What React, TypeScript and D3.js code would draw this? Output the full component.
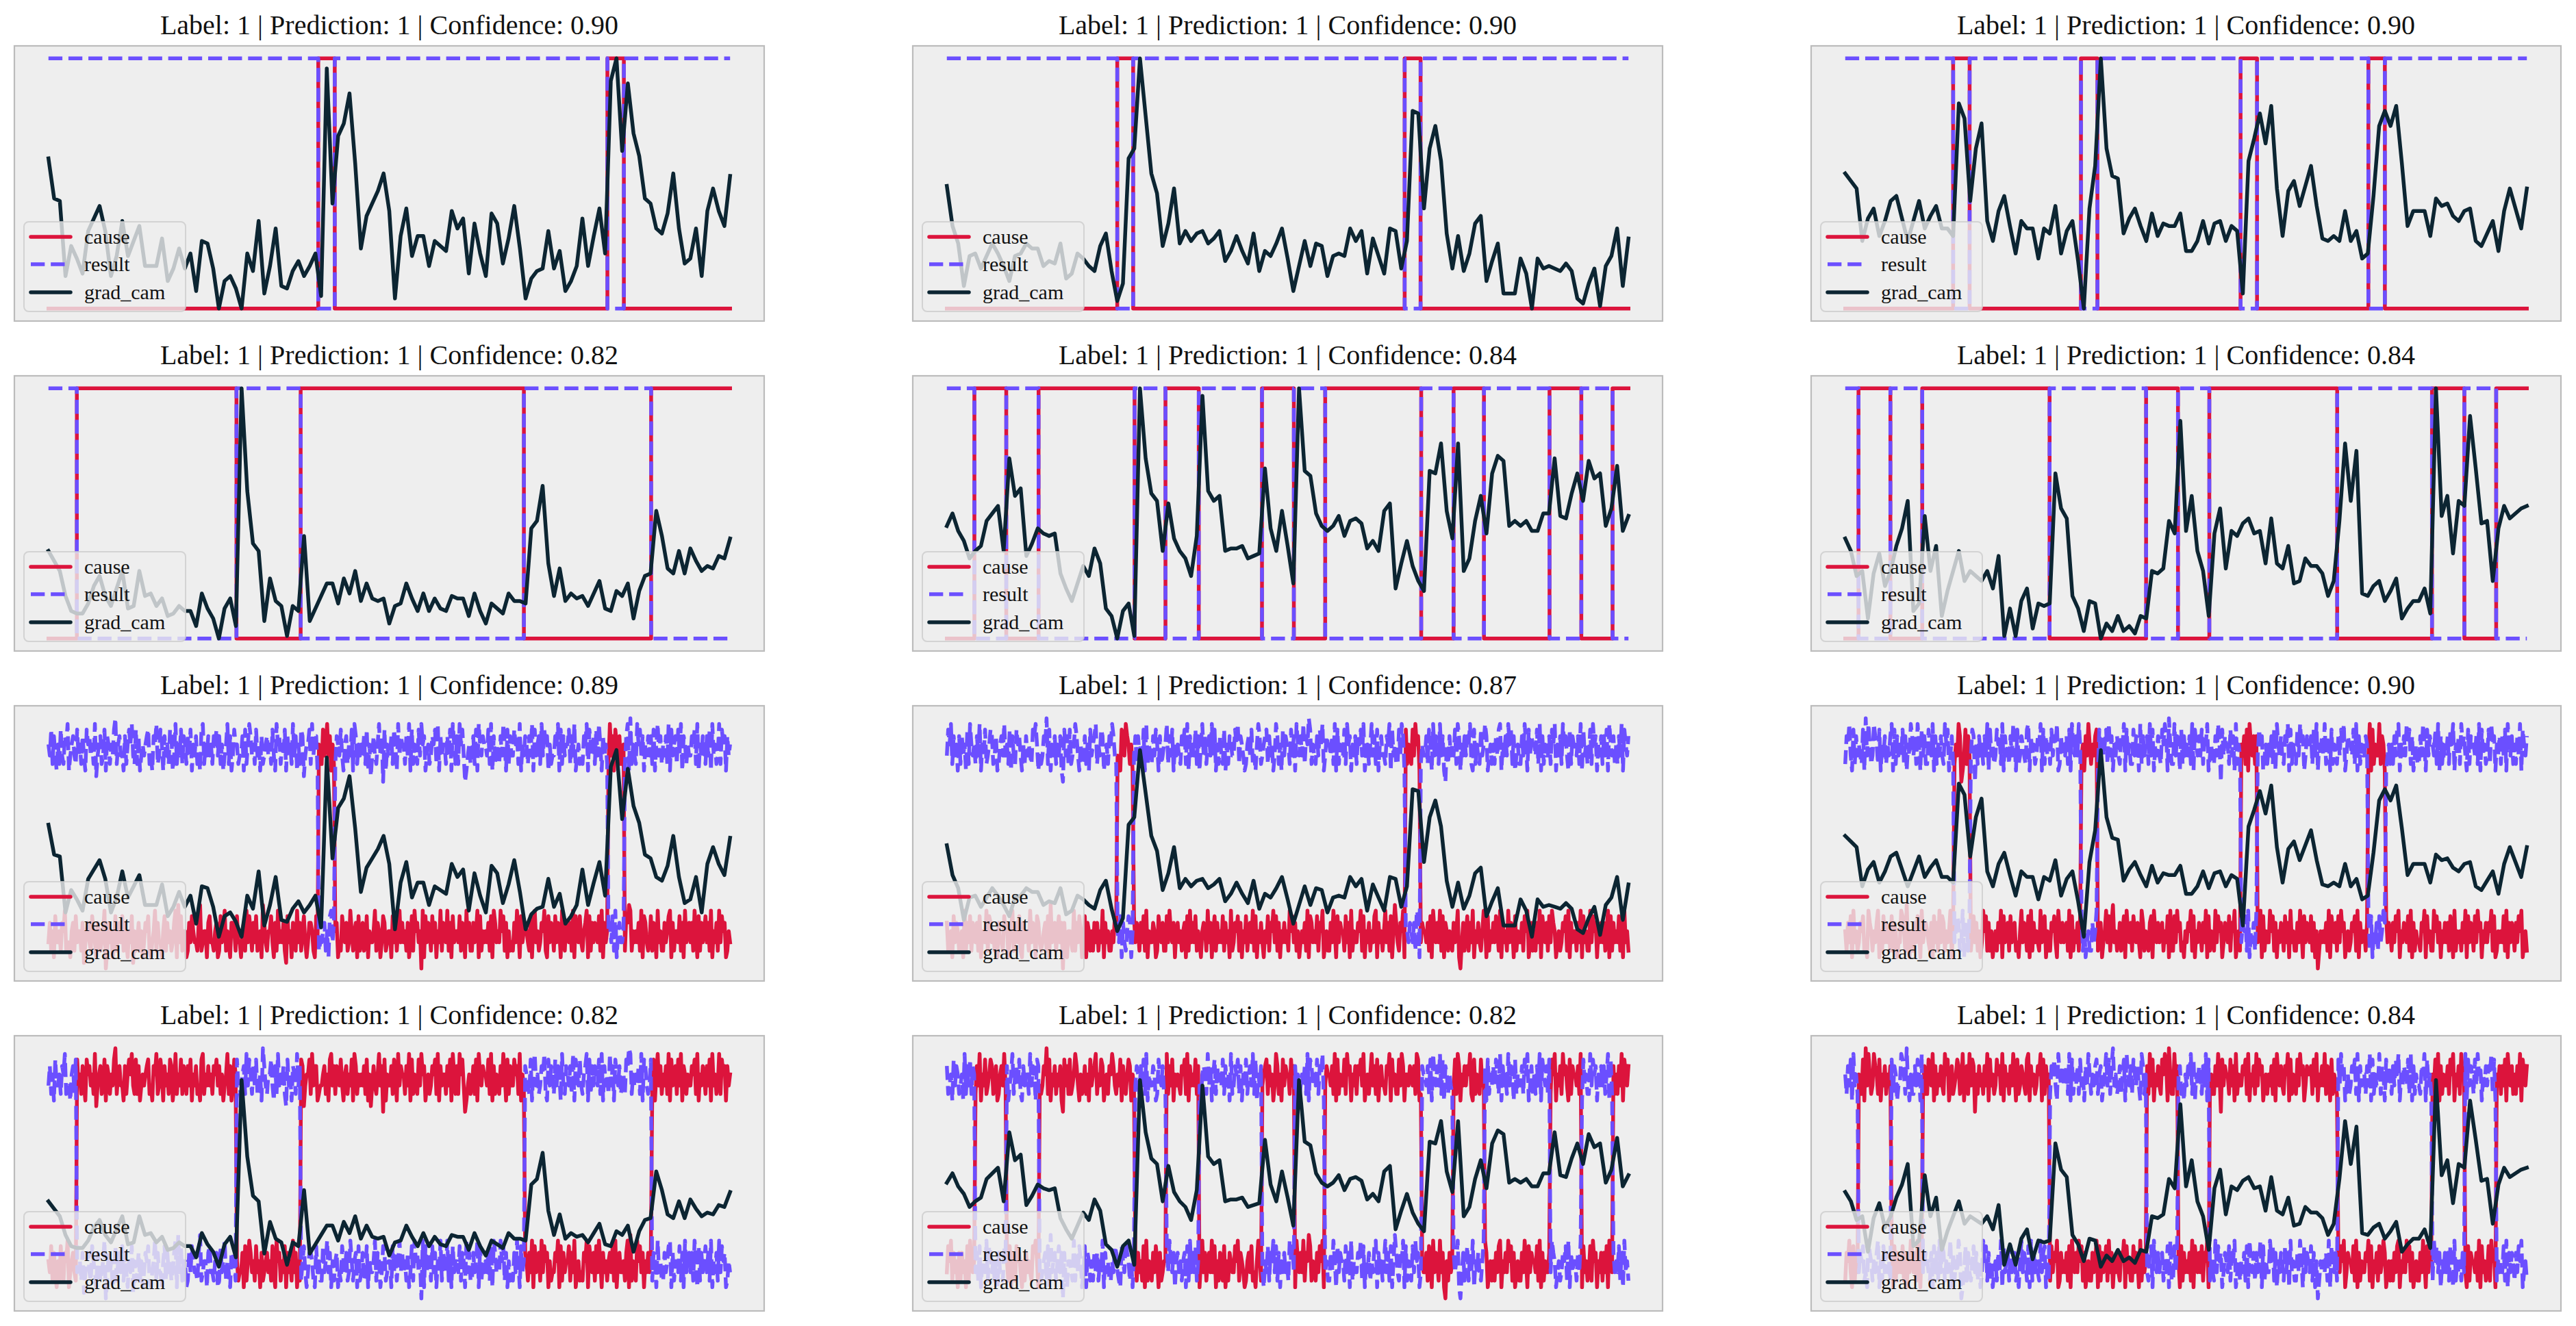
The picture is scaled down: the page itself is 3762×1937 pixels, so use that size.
import React from 'react';
import * as d3 from 'd3';

const W = 3762;
const H = 1937;

// grad_cam curves of the six samples (rows 3-4 show the same samples with noise added)
const GRAD_CAM_1 = [
  0.60, 0.44, 0.43, 0.13, 0.25, 0.20, 0.14, 0.31, 0.36, 0.41,
  0.31, 0.13, 0.21, 0.35, 0.21, 0.27, 0.33, 0.17, 0.17, 0.17,
  0.28, 0.11, 0.16, 0.24, 0.16, 0.22, 0.07, 0.27, 0.26, 0.16,
  0.00, 0.11, 0.13, 0.08, 0.00, 0.22, 0.15, 0.35, 0.06, 0.17,
  0.32, 0.09, 0.08, 0.15, 0.19, 0.13, 0.17, 0.22, 0.05, 0.96,
  0.42, 0.69, 0.74, 0.86, 0.58, 0.24, 0.37, 0.42, 0.47, 0.54,
  0.39, 0.04, 0.29, 0.40, 0.21, 0.29, 0.29, 0.17, 0.27, 0.25,
  0.23, 0.39, 0.32, 0.36, 0.14, 0.34, 0.22, 0.13, 0.38, 0.34,
  0.18, 0.28, 0.41, 0.24, 0.04, 0.12, 0.15, 0.16, 0.31, 0.16,
  0.23, 0.07, 0.11, 0.17, 0.36, 0.17, 0.29, 0.40, 0.22, 0.91,
  1.00, 0.63, 0.90, 0.70, 0.61, 0.44, 0.42, 0.32, 0.30, 0.38,
  0.54, 0.32, 0.18, 0.20, 0.32, 0.13, 0.39, 0.48, 0.39, 0.33,
  0.53,
];
const GRAD_CAM_2 = [
  0.49, 0.33, 0.26, 0.09, 0.21, 0.22, 0.16, 0.21, 0.26, 0.22,
  0.17, 0.11, 0.21, 0.22, 0.26, 0.24, 0.24, 0.17, 0.19, 0.18,
  0.26, 0.12, 0.14, 0.22, 0.20, 0.17, 0.15, 0.25, 0.30, 0.15,
  0.03, 0.10, 0.60, 0.64, 1.00, 0.77, 0.54, 0.46, 0.25, 0.34,
  0.48, 0.26, 0.31, 0.27, 0.30, 0.31, 0.26, 0.28, 0.31, 0.19,
  0.23, 0.29, 0.23, 0.18, 0.30, 0.15, 0.23, 0.21, 0.26, 0.32,
  0.20, 0.07, 0.17, 0.27, 0.17, 0.26, 0.25, 0.13, 0.21, 0.22,
  0.21, 0.32, 0.27, 0.31, 0.14, 0.28, 0.21, 0.14, 0.32, 0.31,
  0.16, 0.27, 0.79, 0.78, 0.40, 0.64, 0.73, 0.59, 0.30, 0.16,
  0.29, 0.15, 0.22, 0.34, 0.37, 0.11, 0.19, 0.26, 0.06, 0.06,
  0.06, 0.20, 0.14, 0.00, 0.20, 0.16, 0.17, 0.16, 0.15, 0.18,
  0.15, 0.04, 0.02, 0.10, 0.16, 0.01, 0.17, 0.21, 0.32, 0.09,
  0.28,
];
const GRAD_CAM_3 = [
  0.54, 0.51, 0.48, 0.27, 0.36, 0.40, 0.29, 0.35, 0.43, 0.45,
  0.36, 0.27, 0.35, 0.43, 0.32, 0.37, 0.41, 0.32, 0.32, 0.29,
  0.82, 0.76, 0.43, 0.64, 0.74, 0.35, 0.27, 0.39, 0.45, 0.33,
  0.22, 0.35, 0.32, 0.32, 0.20, 0.32, 0.30, 0.41, 0.22, 0.31,
  0.35, 0.19, 0.00, 0.40, 0.57, 1.00, 0.64, 0.53, 0.52, 0.30,
  0.36, 0.40, 0.33, 0.27, 0.38, 0.29, 0.34, 0.33, 0.33, 0.38,
  0.23, 0.23, 0.27, 0.35, 0.26, 0.34, 0.35, 0.27, 0.33, 0.31,
  0.06, 0.59, 0.68, 0.78, 0.66, 0.81, 0.48, 0.29, 0.47, 0.51,
  0.41, 0.49, 0.57, 0.41, 0.28, 0.27, 0.29, 0.27, 0.39, 0.27,
  0.31, 0.20, 0.22, 0.45, 0.73, 0.79, 0.73, 0.81, 0.58, 0.33,
  0.39, 0.39, 0.39, 0.29, 0.44, 0.41, 0.42, 0.37, 0.35, 0.39,
  0.40, 0.27, 0.25, 0.30, 0.35, 0.23, 0.39, 0.48, 0.40, 0.32,
  0.48,
];
const GRAD_CAM_4 = [
  0.35, 0.31, 0.27, 0.17, 0.11, 0.10, 0.10, 0.14, 0.21, 0.25,
  0.17, 0.13, 0.20, 0.27, 0.12, 0.13, 0.27, 0.17, 0.18, 0.13,
  0.16, 0.09, 0.10, 0.13, 0.11, 0.11, 0.05, 0.18, 0.12, 0.08,
  0.00, 0.12, 0.16, 0.05, 1.00, 0.59, 0.38, 0.35, 0.07, 0.24,
  0.15, 0.13, 0.01, 0.13, 0.11, 0.41, 0.07, 0.12, 0.17, 0.22,
  0.22, 0.14, 0.24, 0.18, 0.27, 0.15, 0.22, 0.16, 0.15, 0.16,
  0.06, 0.13, 0.14, 0.22, 0.16, 0.11, 0.18, 0.11, 0.16, 0.12,
  0.11, 0.17, 0.16, 0.16, 0.09, 0.18, 0.11, 0.06, 0.14, 0.12,
  0.10, 0.18, 0.15, 0.15, 0.14, 0.44, 0.47, 0.61, 0.30, 0.17,
  0.28, 0.15, 0.18, 0.16, 0.17, 0.13, 0.18, 0.23, 0.12, 0.11,
  0.19, 0.17, 0.22, 0.08, 0.19, 0.25, 0.26, 0.51, 0.41, 0.28,
  0.26, 0.35, 0.26, 0.36, 0.31, 0.27, 0.29, 0.28, 0.33, 0.32,
  0.40,
];
const GRAD_CAM_5 = [
  0.45, 0.50, 0.43, 0.39, 0.32, 0.35, 0.37, 0.47, 0.50, 0.53,
  0.35, 0.72, 0.57, 0.60, 0.33, 0.38, 0.44, 0.42, 0.41, 0.42,
  0.26, 0.20, 0.15, 0.22, 0.29, 0.25, 0.36, 0.30, 0.12, 0.09,
  0.00, 0.11, 0.14, 0.01, 1.00, 0.72, 0.58, 0.55, 0.35, 0.54,
  0.40, 0.35, 0.32, 0.25, 0.41, 0.97, 0.59, 0.55, 0.57, 0.35,
  0.36, 0.36, 0.37, 0.32, 0.33, 0.34, 0.68, 0.44, 0.35, 0.51,
  0.37, 0.22, 1.00, 0.67, 0.65, 0.50, 0.45, 0.43, 0.45, 0.49,
  0.41, 0.47, 0.48, 0.46, 0.36, 0.39, 0.35, 0.51, 0.54, 0.20,
  0.30, 0.39, 0.29, 0.23, 0.19, 0.67, 0.66, 0.78, 0.51, 0.40,
  0.78, 0.27, 0.32, 0.47, 0.57, 0.42, 0.66, 0.73, 0.71, 0.45,
  0.47, 0.45, 0.47, 0.43, 0.43, 0.50, 0.50, 0.72, 0.49, 0.48,
  0.58, 0.66, 0.55, 0.71, 0.64, 0.66, 0.45, 0.52, 0.69, 0.43,
  0.49,
];
const GRAD_CAM_6 = [
  0.40, 0.35, 0.25, 0.27, 0.08, 0.26, 0.34, 0.21, 0.27, 0.37,
  0.44, 0.55, 0.11, 0.14, 0.49, 0.27, 0.37, 0.09, 0.19, 0.27,
  0.35, 0.23, 0.27, 0.25, 0.23, 0.27, 0.20, 0.33, 0.01, 0.12,
  0.01, 0.15, 0.20, 0.04, 0.14, 0.13, 0.14, 0.66, 0.52, 0.48,
  0.17, 0.12, 0.03, 0.15, 0.14, 0.00, 0.06, 0.03, 0.09, 0.03,
  0.05, 0.02, 0.09, 0.08, 0.27, 0.26, 0.28, 0.47, 0.42, 0.87,
  0.43, 0.57, 0.35, 0.27, 0.09, 0.42, 0.52, 0.28, 0.43, 0.41,
  0.46, 0.48, 0.42, 0.43, 0.30, 0.48, 0.30, 0.28, 0.37, 0.22,
  0.23, 0.32, 0.29, 0.29, 0.26, 0.17, 0.23, 0.47, 0.78, 0.55,
  0.75, 0.18, 0.17, 0.21, 0.23, 0.15, 0.19, 0.24, 0.08, 0.12,
  0.15, 0.15, 0.20, 0.10, 1.00, 0.49, 0.57, 0.34, 0.55, 0.53,
  0.89, 0.68, 0.46, 0.47, 0.23, 0.44, 0.53, 0.48, 0.50, 0.52,
  0.53,
];

// stretches where "cause" is 1 (in grad_cam sample units); "result" is its complement
const CAUSE_ON_1 = [[47.5, 50.4], [98.4, 101.3]];
const CAUSE_ON_2 = [[30.0, 32.8], [80.6, 83.4]];
const CAUSE_ON_3 = [[19.0, 21.9], [41.5, 44.4], [69.6, 72.5], [92.1, 95.0]];
const CAUSE_ON_4 = [[5.0, 33.1], [44.4, 83.7], [106.1, 999]];
const CAUSE_ON_5 = [[4.85, 10.46], [16.15, 33.05], [38.49, 44.35], [55.48, 61.09], [66.61, 83.51], [89.21, 94.56], [106.1, 111.7], [117.2, 999]];
const CAUSE_ON_6 = [[2.34, 7.95], [13.56, 35.98], [52.97, 58.58], [64.1, 86.61], [103.3, 109.0], [114.6, 999]];

const GRAD_CAMS = [GRAD_CAM_1, GRAD_CAM_2, GRAD_CAM_3, GRAD_CAM_4, GRAD_CAM_5, GRAD_CAM_6];
const CAUSE_ONS = [CAUSE_ON_1, CAUSE_ON_2, CAUSE_ON_3, CAUSE_ON_4, CAUSE_ON_5, CAUSE_ON_6];

const CONFIDENCE = ['0.90', '0.90', '0.90', '0.82', '0.84', '0.84', '0.89', '0.87', '0.90', '0.82', '0.82', '0.84'];

// noise added to the signals in rows 3-4: one digit per sample, looked up in NOISE_LEVEL
const NOISE_LEVEL = [-0.17, -0.14, -0.11, -0.075, -0.03, 0.03, 0.075, 0.11, 0.14, 0.17];
const NOISE_A = [
  '4635274453', '6583442563', '7455361456', '4375426534', '5803645247',
  '3564736425', '4715346352', '4657324583', '6442573645', '3468294735',
  '5236475443', '6934552674', '4356237458', '3542665374', '4256384753',
  '6473452964', '3557426384', '5463174526', '5384635742', '4665327453',
  '3745846253', '5624375463', '4853562734', '6347254458', '3652476345',
  '5274635846', '4536247385', '6450827465', '3746254836', '5483627455',
  '4736528463', '3645827354', '5463728645', '4857362534', '3648527456',
  '5437268453', '4658327465', '3746528436', '5463827547', '4356827364',
  '6547382645', '3846275463', '4537698354', '5463827643', '4736528453',
  '3645782635', '5473628456', '4638527364', '5746382546', '3847562354',
].join('');
const NOISE_B = [
  '5473642537', '4365824564', '3745364275', '6453814563', '4726535479',
  '3564426357', '5843736245', '4567342658', '3475264537', '6248354736',
  '5364725463', '4278354645', '3657463524', '5836247553', '4462735864',
  '5374526345', '6453742856', '3547264538', '4625376145', '5738466234',
  '4563527846', '3654742563', '5472863545', '4637251464', '3584607254',
  '4637528465', '5364827354', '3748562453', '4657382645', '5364728536',
  '3857402453', '4637285465', '5473826354', '3648527364', '4756382546',
  '5364827456', '3847562534', '4658273645', '5736482453', '4365827546',
  '3748526453', '5647382564', '4536829354', '3857462546', '4637258463',
  '5463827456', '3748265354', '4657382546', '5364728453', '4837562645',
].join('');
const NOISE_C = [
  '6345274653', '4528364736', '5463725548', '3764535264', '4375624583',
  '5647326455', '3846527643', '4563729456', '3574606325', '5438364752',
  '4726535364', '6354826453', '3547643275', '4865352746', '5364738254',
  '4652375463', '3748546256', '4535627384', '6473542565', '3846257364',
  '5473645283', '4657362547', '3564837254', '6425473658', '4736254645',
  '3857463524', '5463827645', '4736582453', '3648527465', '5374628354',
  '4658372546', '3547826453', '5846372596', '4365827354', '3748562465',
  '5463728546', '4837265354', '3645820463', '5736482546', '4358627354',
  '6475382645', '3846527354', '4637582463', '5364827546', '3748652453',
  '4657382645', '5364827453', '3847562546', '4635827364', '5473628453',
].join('');
const NOISE_D = [
  '4758364526', '3645273854', '5364825473', '4576346235', '6484537264',
  '3756425364', '5437685243', '4659372546', '3546207463', '7345864253',
  '4635274568', '3547624536', '5864354726', '4357625463', '6453728354',
  '3647526345', '5836472545', '4365738264', '5473625846', '3564847253',
  '6437253654', '4758365423', '5647342586', '3456736452', '4863527465',
  '5374628546', '4836597354', '3647582465', '5463827354', '4738562546',
  '3657482453', '5846372564', '4365827453', '3748625546', '5463872354',
  '4637528465', '3846205364', '5473862546', '4658327354', '3745862453',
  '5364782546', '4857362453', '3648527465', '5473826354', '4637582546',
  '3856427365', '5463827453', '4738562546', '3647285463', '5364827546',
].join('');
const NOISE_E = [
  '5364728453', '4657342865', '3546825374', '6453736524', '4875394253',
  '3647528456', '5436274638', '4763545826', '3548602473', '6435746352',
  '4857363524', '5364827456', '3745634258', '4653728364', '5438467253',
  '3657428546', '4563827354', '6374526485', '3546735624', '5847369453',
  '4635728546', '3754642863', '5436728546', '4563547283', '3748563425',
  '4658372546', '5364827354', '3847562465', '4736582453', '5463728546',
  '3645827354', '4857362546', '5374628453', '3648527465', '4736250354',
  '5463827546', '3748562453', '4657382645', '5364827354', '4836527465',
  '3647582546', '5473826354', '4365827453', '3857462546', '4637528354',
  '5364827465', '3748562546', '4658372354', '5473826465', '3647582453',
].join('');
const NOISE_F = [
  '3658427364', '5437294853', '4865372546', '3546827364', '5473625486',
  '4638527463', '3754826354', '6438572463', '4576348256', '3847605364',
  '5364827453', '4756382645', '3648527346', '5437826453', '4658273645',
  '3746582364', '5463728546', '4857362453', '3645827364', '5738462546',
  '4365827453', '3746528364', '5638472546', '4375862953', '3846527364',
  '5463827546', '4736582453', '3648507465', '5374628354', '4657382546',
  '3847562453', '5463728546', '4365827354', '3748562465', '5637482546',
  '4836527354', '3647582465', '5473826354', '4658372546', '3745862453',
  '5364782546', '4857362453', '3648527465', '5473826354', '4637582546',
  '3856427365', '5463827453', '4738562546', '3647285463', '5364827546',
].join('');
const NOISE = [NOISE_A, NOISE_B, NOISE_C, NOISE_D, NOISE_E, NOISE_F];

const COL_X = [21, 1333, 2645];
const ROW_Y = [67, 549, 1031, 1513];
const AX_W = 1095;
const AX_H = 402;

const CAUSE_COLOR = '#DC143C';
const RESULT_COLOR = '#6B4FFF';
const GRAD_COLOR = '#0C2532';
const LW = 5.5;
const DASH = `${3.7 * LW} ${1.6 * LW}`;
const FONT = '"Liberation Serif", "Times New Roman", serif';

type Pt = [number, number];

const isOn = (x: number, on: number[][]) => (on.some(([a, b]) => x >= a && x < b) ? 1 : 0);

function stepPoints(on: number[][], n: number, flip: boolean): Pt[] {
  const level = (x: number) => (flip ? 1 - isOn(x, on) : isOn(x, on));
  const edges = on.flat().filter((t) => t > 0 && t < n - 1).sort((a, b) => a - b);
  const pts: Pt[] = [[0, level(0)]];
  edges.forEach((t) => {
    pts.push([t, level(t - 1e-6)], [t, level(t + 1e-6)]);
  });
  pts.push([n - 1, level(n - 1)]);
  return pts;
}

function noisyPoints(on: number[][], n: number, noise: string, flip: boolean): Pt[] {
  const m = noise.length;
  return Array.from(noise, (ch, j) => {
    const x = (j * (n - 1)) / (m - 1);
    const base = flip ? 1 - isOn(x, on) : isOn(x, on);
    return [x, base + NOISE_LEVEL[Number(ch)]] as Pt;
  });
}

interface PanelProps {
  left: number;
  top: number;
  title: string;
  grad: number[];
  on: number[][];
  noiseCause?: string;
  noiseResult?: string;
}

const Panel: React.FC<PanelProps> = ({ left, top, title, grad, on, noiseCause, noiseResult }) => {
  const n = grad.length;
  const cause = noiseCause ? noisyPoints(on, n, noiseCause, false) : stepPoints(on, n, false);
  const result = noiseResult ? noisyPoints(on, n, noiseResult, true) : stepPoints(on, n, true);
  const gradPts: Pt[] = grad.map((v, i) => [i, v]);

  const values = [...cause, ...result, ...gradPts].map((p) => p[1]);
  const [lo, hi] = d3.extent(values) as [number, number];
  const span = hi - lo;

  // matplotlib-like 5% margins
  const x = d3.scaleLinear().domain([-0.05 * (n - 1), 1.05 * (n - 1)]).range([left, left + AX_W]);
  const y = d3.scaleLinear().domain([lo - 0.05 * span, hi + 0.05 * span]).range([top + AX_H, top]);
  const line = d3.line<Pt>().x((d) => x(d[0])).y((d) => y(d[1]));

  const lx = left + 14;
  const ly = top + 257;
  const entries = [
    { label: 'cause', color: CAUSE_COLOR, dash: undefined as string | undefined, dy: 22 },
    { label: 'result', color: RESULT_COLOR, dash: DASH, dy: 62 },
    { label: 'grad_cam', color: GRAD_COLOR, dash: undefined as string | undefined, dy: 103 },
  ];

  return (
    <g>
      <text
        x={left + AX_W / 2}
        y={top - 17}
        textAnchor="middle"
        fontFamily={FONT}
        fontSize={40}
        fill="#111"
      >
        {title}
      </text>
      <rect x={left} y={top} width={AX_W} height={AX_H} fill="#EEEEEE" />
      <path d={line(cause) || ''} fill="none" stroke={CAUSE_COLOR} strokeWidth={LW} strokeLinejoin="round" strokeLinecap="square" />
      <path d={line(result) || ''} fill="none" stroke={RESULT_COLOR} strokeWidth={LW} strokeDasharray={DASH} strokeLinejoin="round" />
      <path d={line(gradPts) || ''} fill="none" stroke={GRAD_COLOR} strokeWidth={LW} strokeLinejoin="round" strokeLinecap="square" />
      <rect x={left} y={top} width={AX_W} height={AX_H} fill="none" stroke="#BCBCBC" strokeWidth={2.2} />
      <g>
        <rect
          x={lx}
          y={ly}
          width={236}
          height={131}
          rx={7}
          fill="#EEEEEE"
          fillOpacity={0.8}
          stroke="#CCCCCC"
          strokeOpacity={0.8}
          strokeWidth={2}
        />
        {entries.map((e) => (
          <g key={e.label}>
            <line
              x1={lx + 10}
              x2={lx + 68}
              y1={ly + e.dy}
              y2={ly + e.dy}
              stroke={e.color}
              strokeWidth={LW}
              strokeDasharray={e.dash}
              strokeLinecap={e.dash ? 'butt' : 'round'}
            />
            <text x={lx + 88} y={ly + e.dy + 10} fontFamily={FONT} fontSize={30} fill="#111">
              {e.label}
            </text>
          </g>
        ))}
      </g>
    </g>
  );
};

const App: React.FC = () => {
  const panels = d3.range(12).map((k) => {
    const row = Math.floor(k / 3);
    const col = k % 3;
    const sample = (row % 2) * 3 + col;
    const noisy = row >= 2;
    return {
      key: k,
      left: COL_X[col],
      top: ROW_Y[row],
      title: `Label: 1 | Prediction: 1 | Confidence: ${CONFIDENCE[k]}`,
      grad: GRAD_CAMS[sample],
      on: CAUSE_ONS[sample],
      noiseCause: noisy ? NOISE[row === 2 ? 2 * col : 2 * col + 1] : undefined,
      noiseResult: noisy ? NOISE[row === 2 ? 2 * col + 1 : 2 * col] : undefined,
    };
  });

  return (
    <svg
      width={W}
      height={H}
      viewBox={`0 0 ${W} ${H}`}
      style={{ position: 'absolute', left: 0, top: 0, display: 'block' }}
    >
      <rect width={W} height={H} fill="#FFFFFF" />
      {panels.map(({ key, ...p }) => (
        <Panel key={key} {...p} />
      ))}
    </svg>
  );
};

export default App;
